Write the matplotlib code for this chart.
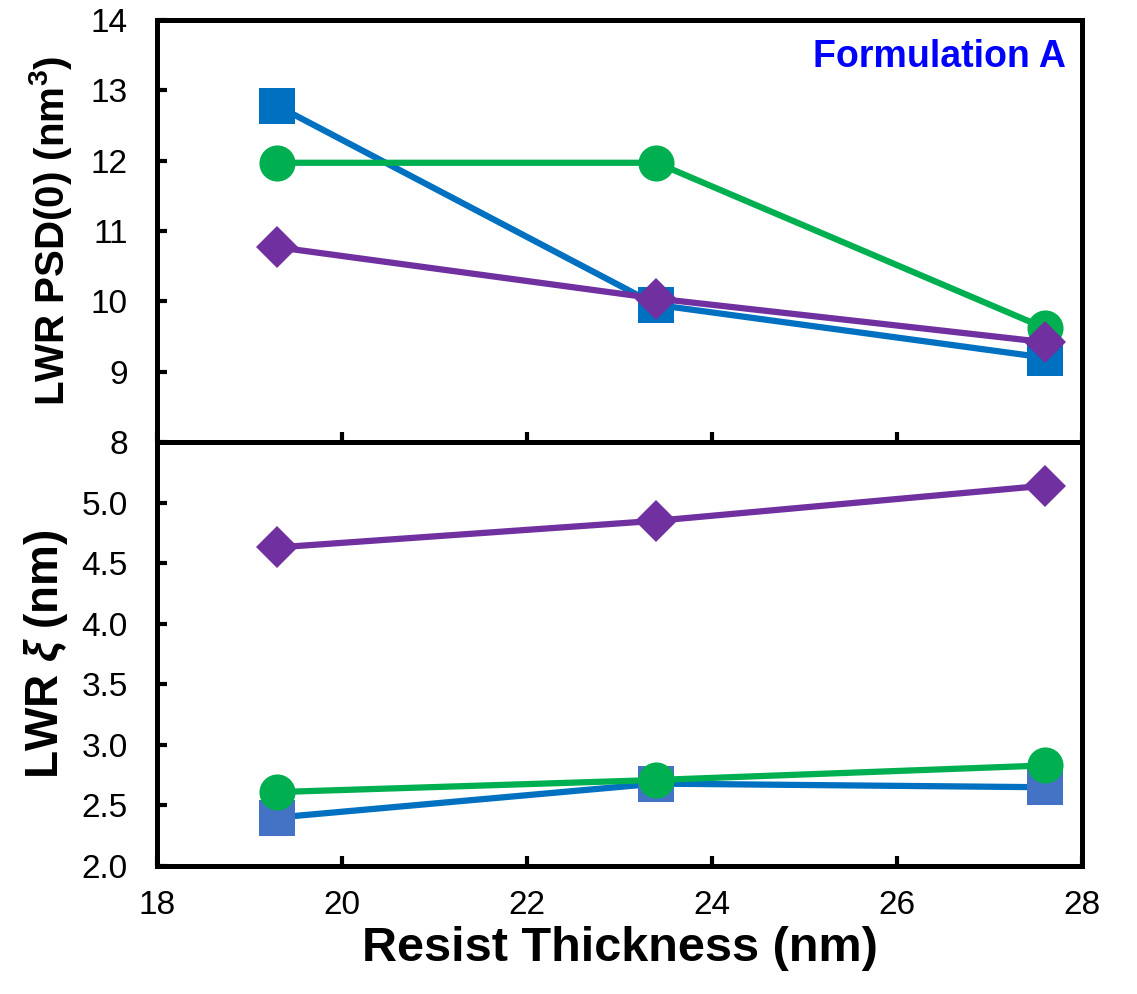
import numpy as np
import matplotlib.pyplot as plt

plt.rcParams['font.family'] = ['Liberation Sans', 'DejaVu Sans']
plt.rcParams['mathtext.fontset'] = 'custom'
plt.rcParams['mathtext.it'] = 'Liberation Sans:italic:bold'
plt.rcParams['mathtext.rm'] = 'Liberation Sans:bold'

thickness = [19.3, 23.4, 27.6]

# LWR PSD(0), nm^3
psd_square = [12.78, 9.95, 9.2]
psd_circle = [11.97, 11.97, 9.62]
psd_diamond = [10.77, 10.04, 9.42]

# LWR correlation length, nm
xi_square = [2.40, 2.68, 2.65]
xi_circle = [2.61, 2.71, 2.83]
xi_diamond = [4.63, 4.85, 5.14]

blue = '#0070C0'
blue_light = '#4472C4'
green = '#00B050'
purple = '#7030A0'

fig = plt.figure(figsize=(11.37, 9.94), dpi=100)
ax1 = fig.add_axes([0.138, 0.5553, 0.8136, 0.4246])
ax2 = fig.add_axes([0.138, 0.1288, 0.8136, 0.4265])

lw = 4.5
ax1.plot(thickness, psd_square, color=blue, lw=lw, marker='s', ms=26, mfc=blue, mec=blue, mew=0)
ax1.plot(thickness, psd_circle, color=green, lw=lw, marker='o', ms=26, mfc=green, mec=green, mew=0)
ax1.plot(thickness, psd_diamond, color=purple, lw=lw, marker='D', ms=21, mfc=purple, mec=purple, mew=0)

ax2.plot(thickness, xi_square, color=blue, lw=lw, marker='s', ms=26, mfc=blue_light, mec=blue_light, mew=0)
ax2.plot(thickness, xi_circle, color=green, lw=lw, marker='o', ms=26, mfc=green, mec=green, mew=0)
ax2.plot(thickness, xi_diamond, color=purple, lw=lw, marker='D', ms=21, mfc=purple, mec=purple, mew=0)

for ax in (ax1, ax2):
    ax.set_xlim(18, 28)
    ax.set_xticks(np.arange(18, 29, 2))
    for s in ax.spines.values():
        s.set_linewidth(3.6)
    ax.tick_params(direction='in', length=7, width=3, labelsize=24)
    ax.tick_params(axis='x', pad=17)
    ax.tick_params(axis='y', pad=21)

ax1.set_ylim(8, 14)
ax1.set_yticks(np.arange(8, 15, 1))
ax1.tick_params(axis='x', labelbottom=False)
ax1.set_ylabel('LWR PSD(0) (nm$^\\mathregular{3}$)', fontsize=29, fontweight='bold', labelpad=12)
ax1.text(0.983, 0.912, 'Formulation A', transform=ax1.transAxes, ha='right', va='center',
         fontsize=27, fontweight='bold', color='#0000FF')

ax2.set_ylim(2.0, 5.5)
ax2.set_yticks(np.arange(2.0, 5.01, 0.5))
ax2.set_yticklabels(['%.1f' % v for v in np.arange(2.0, 5.01, 0.5)])
ax2.set_ylabel('LWR $\\xi$ (nm)', fontsize=33, fontweight='bold', labelpad=8)
ax2.set_xlabel('Resist Thickness (nm)', fontsize=35, fontweight='bold', labelpad=4)

fig.savefig('out.png', dpi=100)
